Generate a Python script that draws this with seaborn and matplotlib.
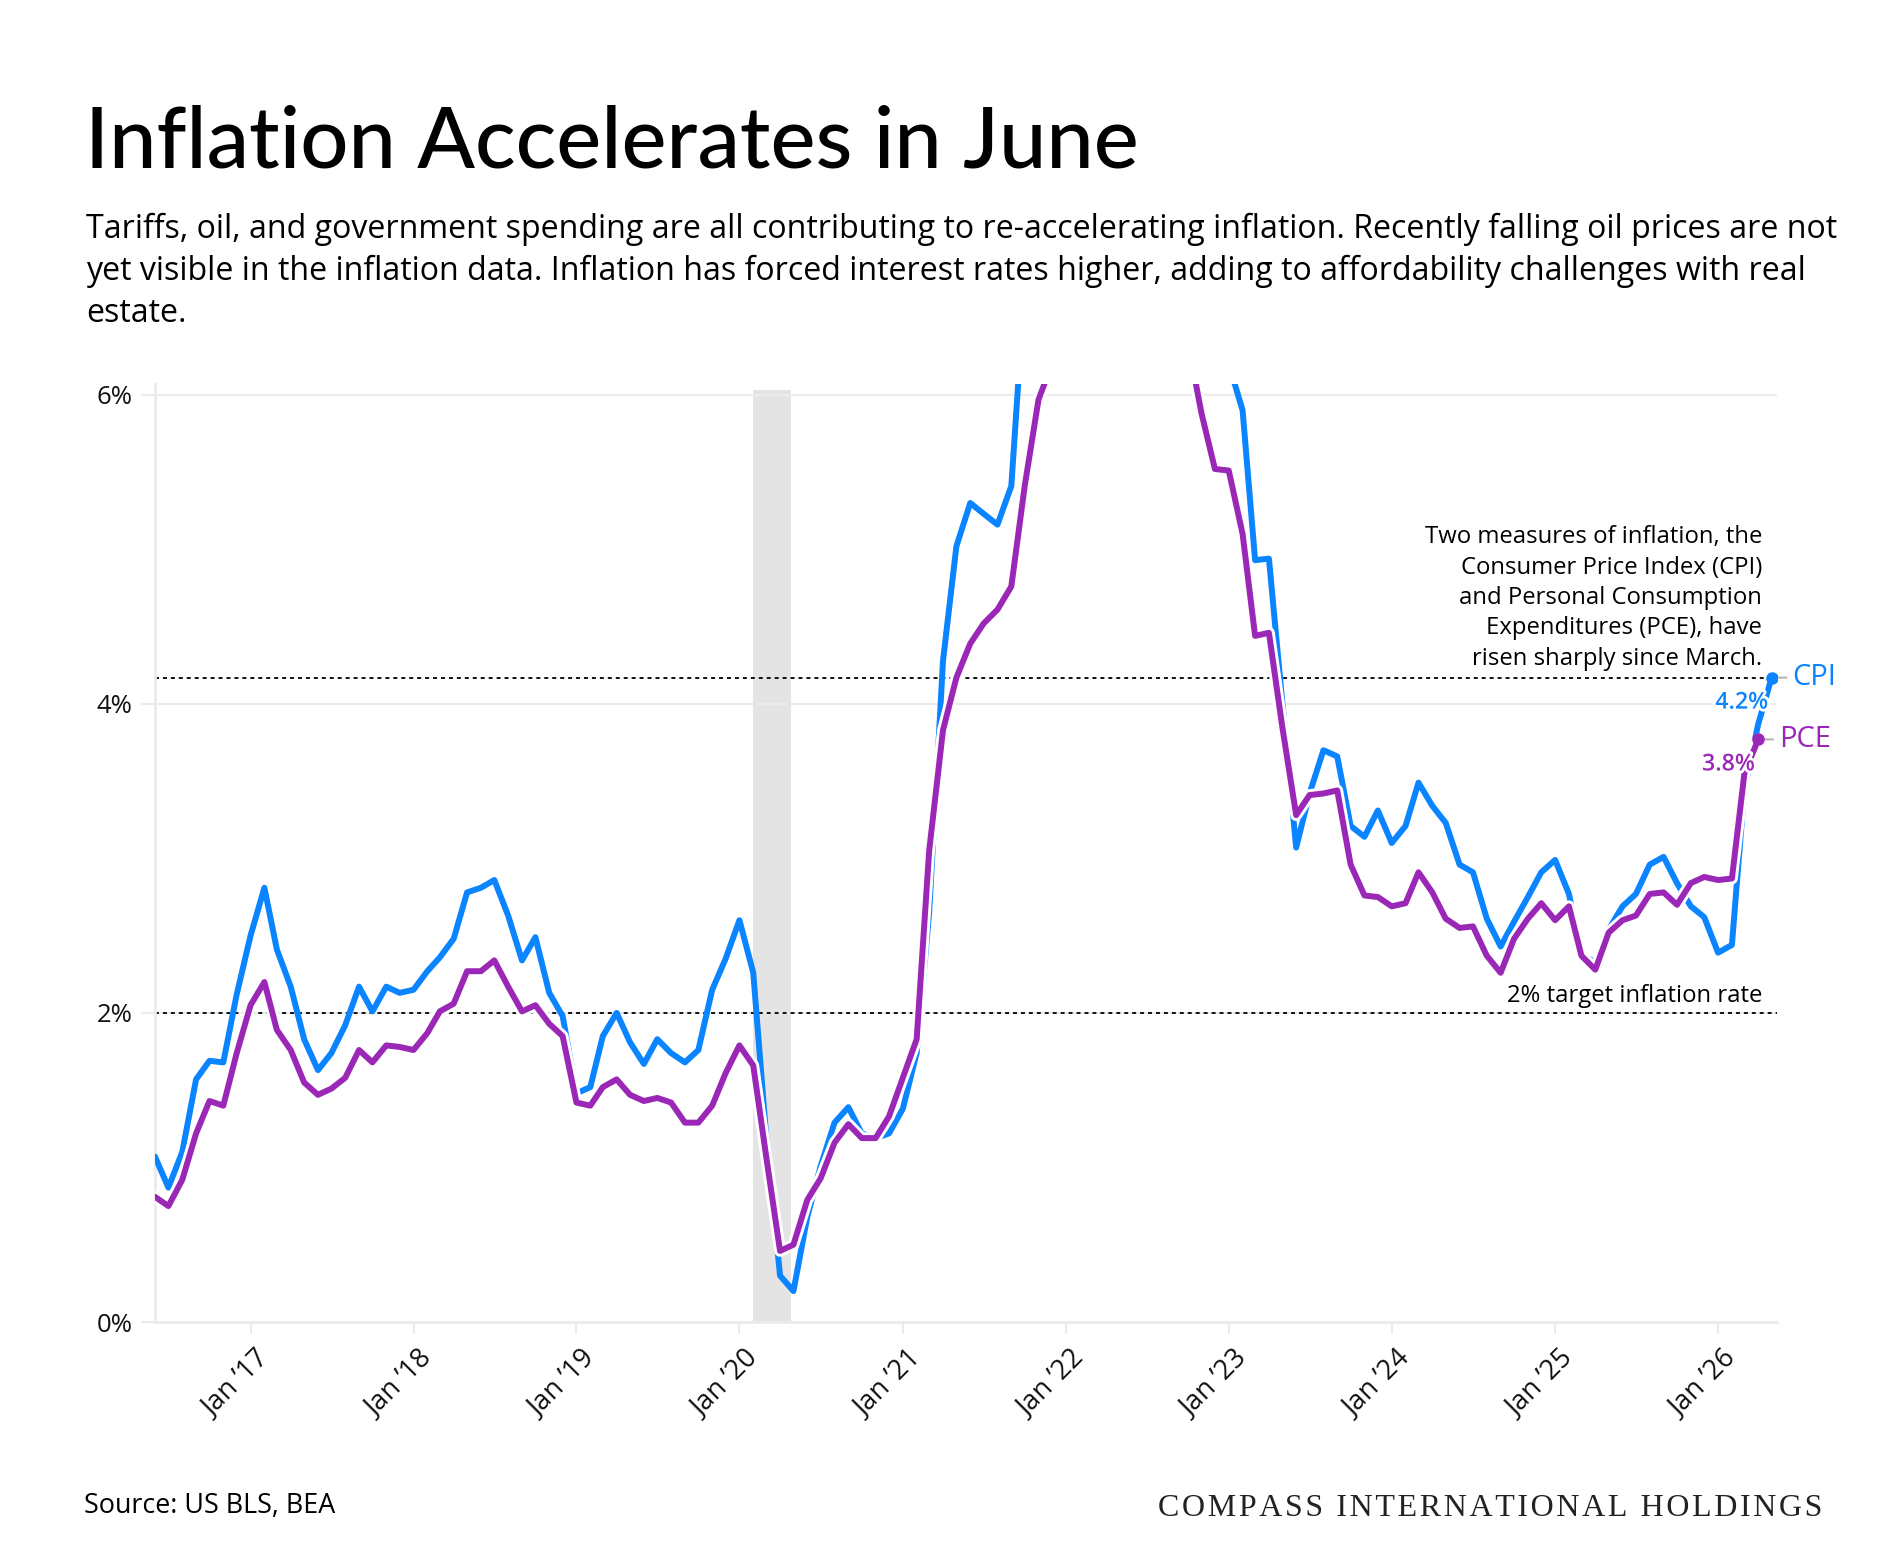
# Inflation chart: CPI vs PCE year-over-year, monthly
import pandas as pd
import numpy as np
import seaborn as sns
import matplotlib.pyplot as plt
import matplotlib.patheffects as pe
from matplotlib.transforms import ScaledTranslation

# Year-over-year inflation in %, monthly from Jun 2016
cpi = [1.07, 0.87, 1.10, 1.57, 1.69, 1.68, 2.12, 2.50, 2.81, 2.41, 2.17, 1.83,
       1.63, 1.74, 1.92, 2.17, 2.01, 2.17, 2.13, 2.15, 2.27, 2.36, 2.48, 2.78,
       2.81, 2.86, 2.63, 2.34, 2.49, 2.13, 1.98, 1.48, 1.52, 1.85, 2.00, 1.81,
       1.67, 1.83, 1.74, 1.68, 1.76, 2.15, 2.35, 2.60, 2.26, 1.20, 0.30, 0.20,
       0.68, 1.01, 1.29, 1.39, 1.22, 1.19, 1.22, 1.38, 1.74, 2.65, 4.28, 5.02,
       5.30, 5.23, 5.16, 5.41, 6.70, 6.80, 7.00, 7.50, 7.90, 8.50, 8.30, 8.60,
       9.10, 8.50, 8.30, 8.20, 7.70, 7.10, 6.50, 6.20, 5.90, 4.93, 4.94, 4.01,
       3.07, 3.42, 3.70, 3.66, 3.21, 3.14, 3.31, 3.10, 3.21, 3.49, 3.34, 3.23,
       2.96, 2.91, 2.61, 2.43, 2.59, 2.75, 2.91, 2.99, 2.77, 2.37, 2.33, 2.54,
       2.69, 2.77, 2.96, 3.01, 2.84, 2.69, 2.62, 2.39, 2.44, 3.45, 3.87, 4.17]
pce = [0.81, 0.75, 0.92, 1.22, 1.43, 1.40, 1.74, 2.05, 2.20, 1.89, 1.76, 1.55,
       1.47, 1.51, 1.58, 1.76, 1.68, 1.79, 1.78, 1.76, 1.87, 2.01, 2.06, 2.27,
       2.27, 2.34, 2.17, 2.01, 2.05, 1.93, 1.85, 1.42, 1.40, 1.52, 1.57, 1.47,
       1.43, 1.45, 1.42, 1.29, 1.29, 1.40, 1.61, 1.79, 1.66, 1.07, 0.46, 0.50,
       0.79, 0.93, 1.16, 1.28, 1.19, 1.19, 1.33, 1.58, 1.83, 3.05, 3.83, 4.17,
       4.39, 4.52, 4.61, 4.76, 5.41, 5.97, 6.20, 6.40, 6.60, 6.90, 6.60, 6.60,
       7.00, 6.60, 6.50, 6.50, 6.35, 5.88, 5.52, 5.51, 5.10, 4.44, 4.46, 3.85,
       3.28, 3.41, 3.42, 3.44, 2.96, 2.76, 2.75, 2.69, 2.71, 2.91, 2.78, 2.61,
       2.55, 2.56, 2.37, 2.26, 2.48, 2.61, 2.71, 2.60, 2.69, 2.37, 2.28, 2.52,
       2.60, 2.63, 2.77, 2.78, 2.70, 2.84, 2.88, 2.86, 2.87, 3.55, 3.77]
months = pd.date_range('2016-06-01', periods=len(cpi), freq='MS')
recession = ['2020-02-01', '2020-04-25']
target = 2.0
year_ticks = pd.date_range('2017-01-01', '2026-01-01', freq='YS')
year_labels = ["Jan \u2019" + d.strftime('%y') for d in year_ticks]
y_ticks = [0, 2, 4, 6]
y_labels = ['0%', '2%', '4%', '6%']

title = "Inflation Accelerates in June"
subtitle = ["Tariffs, oil, and government spending are all contributing to re-accelerating inflation. Recently falling oil prices are not",
            "yet visible in the inflation data. Inflation has forced interest rates higher, adding to affordability challenges with real",
            "estate."]
note = ["Two measures of inflation, the",
        "Consumer Price Index (CPI)",
        "and Personal Consumption",
        "Expenditures (PCE), have",
        "risen sharply since March."]

df = pd.DataFrame({'month': months, 'CPI': cpi, 'PCE': pce + [np.nan] * (len(cpi) - len(pce))})

blue = '#0a84ff'
purple = '#9b27b7'
grid_col = '#ebebeb'

sns.set_theme(style='white')
plt.rcParams['font.family'] = ['Open Sans', 'DejaVu Sans']

W, H = 1900, 1568
def px(x, y):
    return x / W, 1 - y / H

fig = plt.figure(figsize=(W / 100, H / 100), dpi=100)
ax = fig.add_axes([155 / W, 1 - 1322 / H, (1777 - 155) / W, (1322 - 384) / H])

# recession shading
ax.axvspan(pd.Timestamp(recession[0]), pd.Timestamp(recession[1]), ymax=6.03 / 6.07,
           color='#e4e4e4', lw=0, zorder=0.5)

# reference lines (latest CPI and 2% target)
ax.axhline(cpi[-1], color='black', lw=1.3, ls=(0, (2.2, 2.2)), zorder=2)
ax.axhline(target, color='black', lw=1.3, ls=(0, (2.2, 2.2)), zorder=2)

sns.lineplot(data=df, x='month', y='CPI', color=blue, lw=4.3, ax=ax, zorder=3, estimator=None)
sns.lineplot(data=df, x='month', y='PCE', color=purple, lw=4.3, ax=ax, zorder=4, estimator=None,
             path_effects=[pe.Stroke(linewidth=8.5, foreground='white'), pe.Normal()])

# end points and labels
halo = [pe.withStroke(linewidth=4, foreground='white')]
last_cpi = (months[len(cpi) - 1], cpi[-1])
last_pce = (months[len(pce) - 1], pce[-1])
ax.plot(*last_cpi, 'o', color=blue, ms=8, zorder=6)
ax.plot(*last_pce, 'o', color=purple, ms=8, zorder=6)
for (pt, name, col) in [(last_cpi, 'CPI', blue), (last_pce, 'PCE', purple)]:
    ax.annotate(name, xy=pt, xytext=(15, 0), textcoords='offset points', ha='left', va='center',
                color=col, fontsize=21, annotation_clip=False, zorder=5,
                arrowprops=dict(arrowstyle='-', color='#b5b5b5', lw=1.5, shrinkA=2, shrinkB=4))
    ax.annotate('{:.1f}%'.format(pt[1]), xy=pt, xytext=(-2.5, -18), textcoords='offset points',
                ha='right', va='center', color=col, fontsize=16.7, weight='semibold',
                path_effects=halo, zorder=7)

# axes styling
ax.set_xlim(months[0], pd.Timestamp('2026-05-13'))
ax.set_ylim(0, 6.07)
ax.set_xlabel('')
ax.set_ylabel('')
ax.set_yticks(y_ticks)
ax.set_yticklabels(y_labels, fontsize=18.5, color='#111111')
ax.set_xticks(year_ticks)
ax.set_xticklabels(year_labels, rotation=45, ha='right', va='center', rotation_mode='anchor',
                   fontsize=19.5, color='#111111')
ax.tick_params(axis='x', bottom=True, length=8.6, width=1.5, color=grid_col, pad=15)
ax.tick_params(axis='y', left=True, length=10, width=1.5, color=grid_col, pad=6)
# nudge the rotated labels right so they end just past the tick (after tick_params, which resets transforms)
shift = ScaledTranslation(14 / 100, 0, fig.dpi_scale_trans)
for lab in ax.get_xticklabels():
    lab.set_transform(lab.get_transform() + shift)
ax.grid(axis='y', color=grid_col, lw=1.5, zorder=0)
ax.set_axisbelow(True)
for side in ['top', 'right']:
    ax.spines[side].set_visible(False)
for side in ['left', 'bottom']:
    ax.spines[side].set_color(grid_col)
    ax.spines[side].set_linewidth(2)

# titles and notes
fig.text(*px(85, 168), title, fontsize=61, weight='medium', va='baseline', color='black',
         family=['Lato', 'DejaVu Sans'])
for i, line in enumerate(subtitle):
    fig.text(*px(86, 238 + 42 * i), line, fontsize=23.1, va='baseline', color='black')
for i, line in enumerate(note):
    fig.text(*px(1762, 543 + 30.5 * i), line, fontsize=17.2, ha='right', va='baseline', color='black')
fig.text(*px(1762, 1002), "2% target inflation rate", fontsize=17.2, ha='right', va='baseline', color='black')

fig.text(*px(84, 1513), "Source: US BLS, BEA", fontsize=19.4, va='baseline', color='black')
fig.text(*px(1822, 1516), '\u200a'.join("COMPASS INTERNATIONAL HOLDINGS"), fontsize=23,
         family=['Liberation Serif', 'DejaVu Serif'], ha='right', va='baseline', color='#222222')

fig.savefig('out.png', dpi=100)
